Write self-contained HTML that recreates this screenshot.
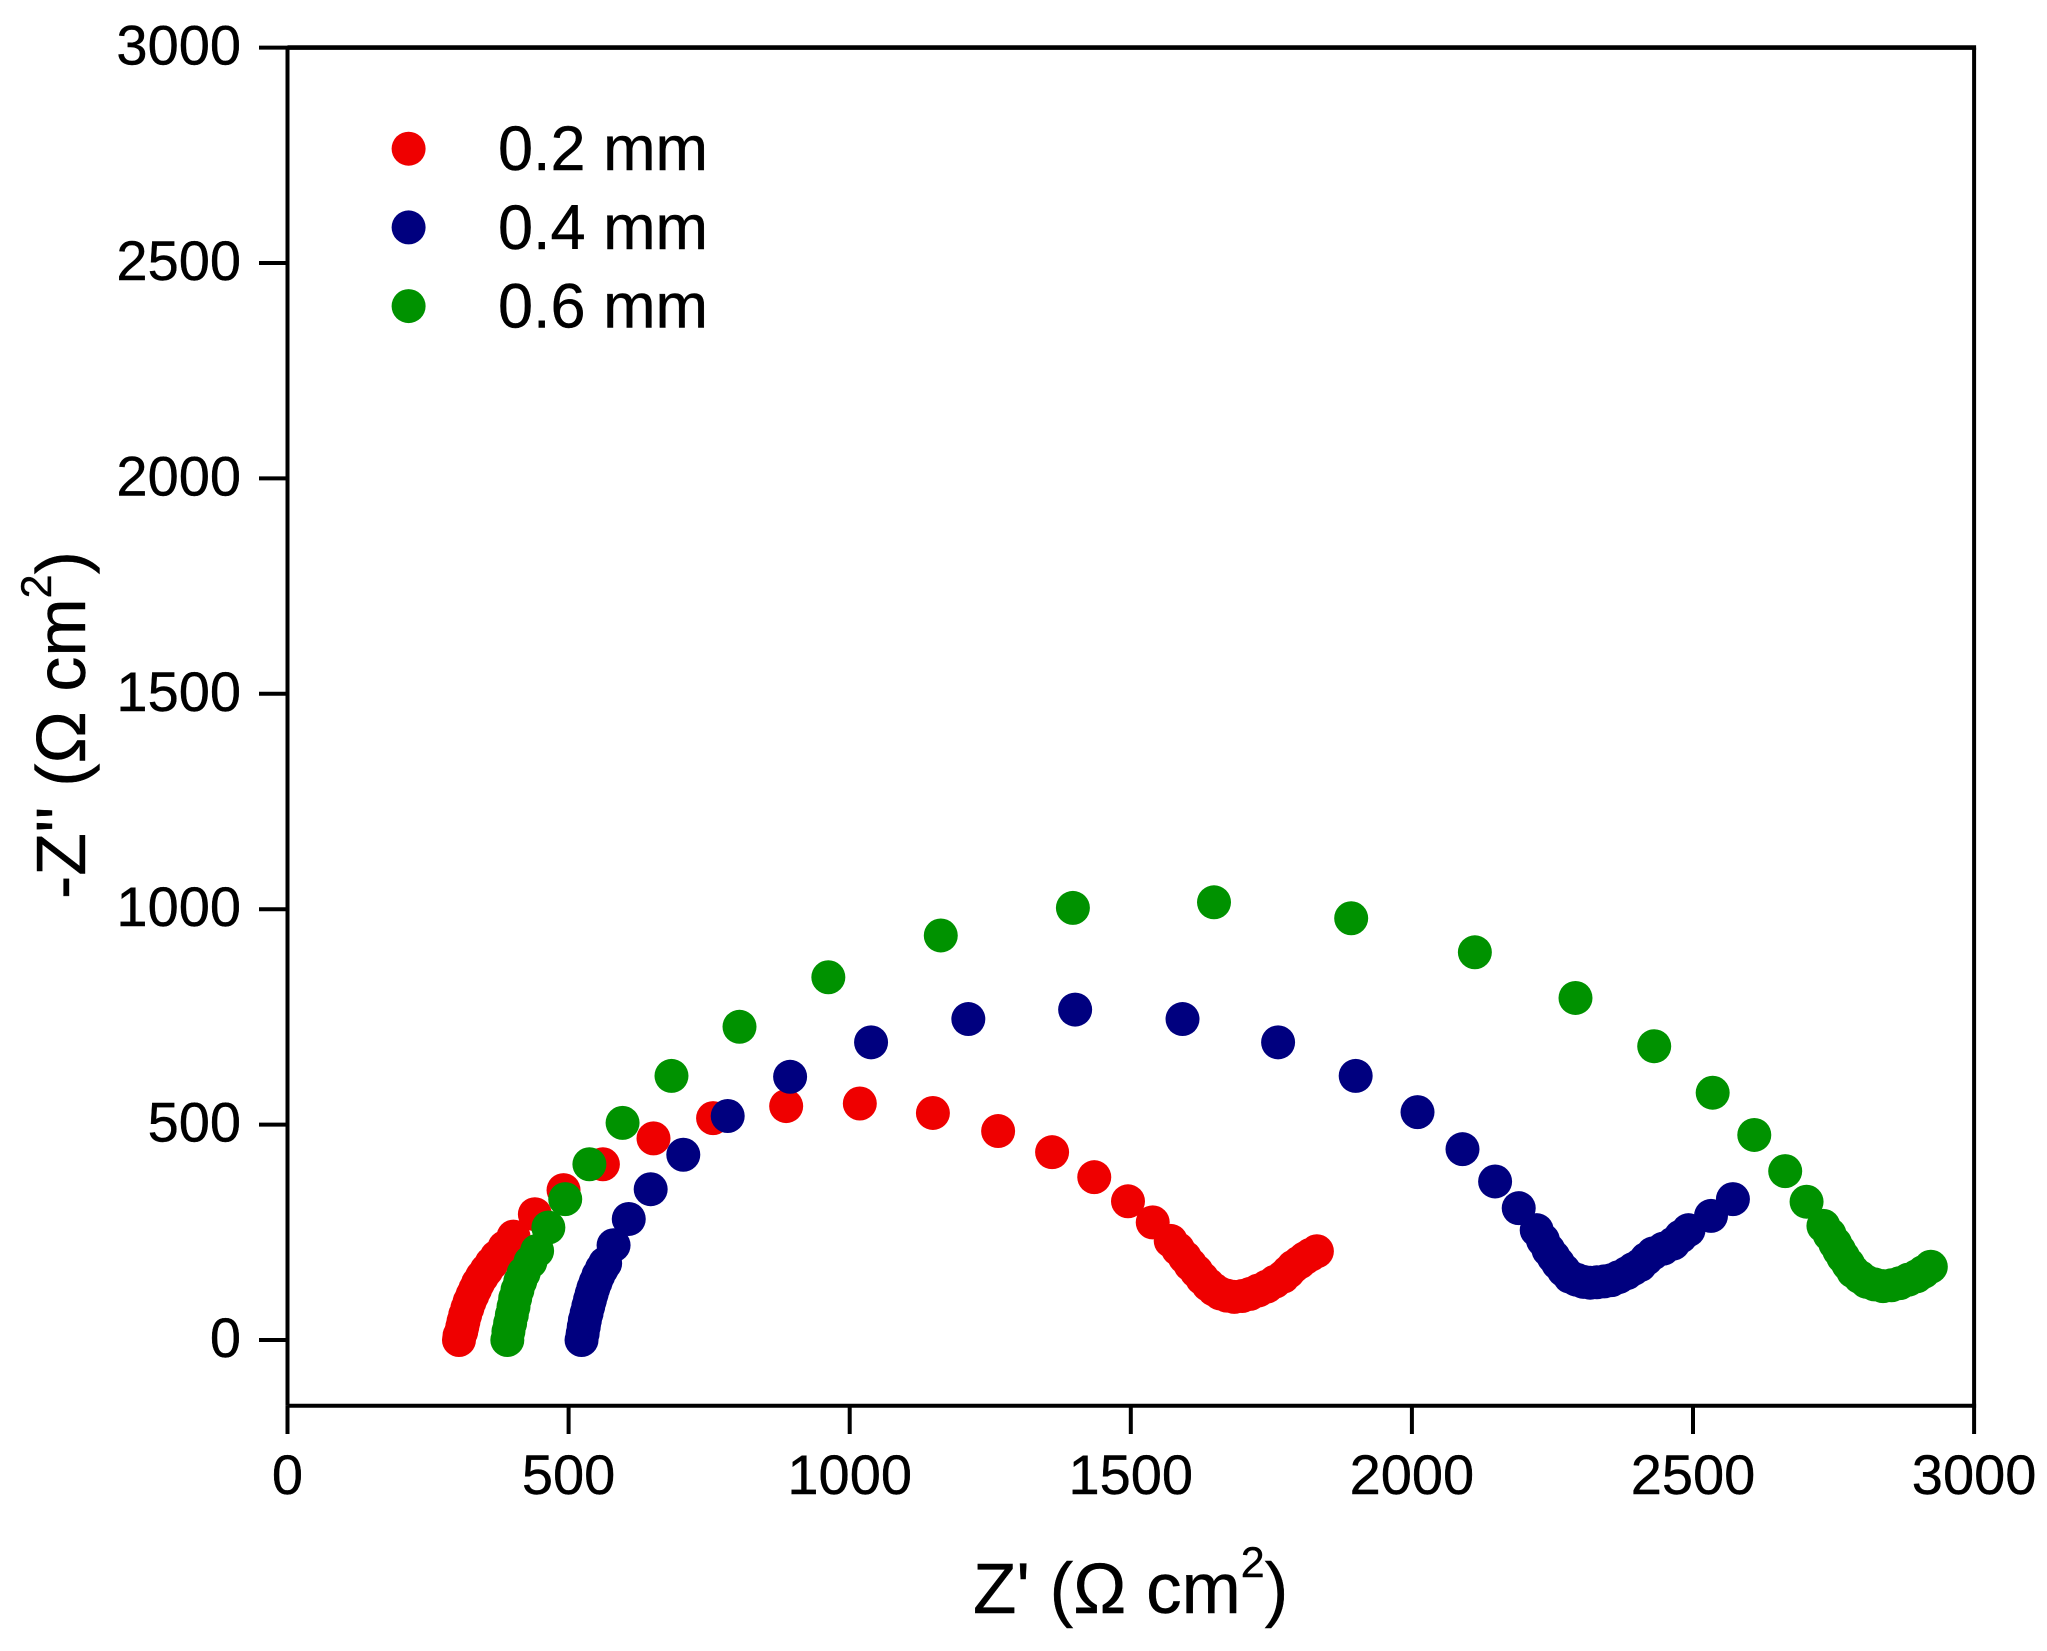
<!DOCTYPE html>
<html lang="en">
<head>
<meta charset="utf-8">
<title>Nyquist plot</title>
<style>
html,body{margin:0;padding:0;background:#fff;width:2047px;height:1651px;overflow:hidden}
svg{display:block}
text{font-family:"Liberation Sans",Arial,sans-serif;fill:#000;stroke:#000;stroke-width:0.4px}
</style>
</head>
<body>
<svg id="chart" xmlns="http://www.w3.org/2000/svg" width="2047" height="1651" viewBox="0 0 2047 1651">
  <rect x="0" y="0" width="2047" height="1651" fill="#ffffff"/>
  <g id="series"></g>
  <g id="axes"></g>
  <g id="legend"></g>
  <text x="973" y="1613" font-size="71">Z' (Ω cm<tspan dy="-36" font-size="43">2</tspan><tspan dy="36">)</tspan></text>
  <text transform="translate(85,899) rotate(-90)" x="0" y="0" font-size="70">-Z'' (Ω cm<tspan dy="-34" font-size="43">2</tspan><tspan dy="34">)</tspan></text>
</svg>
<script>
const xTickValues = [0, 500, 1000, 1500, 2000, 2500, 3000];
const yTickValues = [0, 500, 1000, 1500, 2000, 2500, 3000];
const seriesNames = ["0.2 mm", "0.4 mm", "0.6 mm"];

const redZReal = [305,306,309,311,313,316,320,324,329,334,339,346,354,363,372,386,402,440,491,561,651,757,887,1018,1148,1264,1360,1435,1495,1539,1571,1584,1596,1606,1617,1627,1638,1648,1659,1671,1684,1698,1712,1727,1742,1756,1771,1780,1789,1800,1810,1820,1831];
const redZImag = [0,10,19,31,43,58,74,89,104,118,132,147,162,178,193,215,240,292,348,408,468,515,543,549,527,485,436,378,322,273,230,211,192,175,159,143,128,117,108,103,100,102,107,115,124,135,147,158,170,180,190,198,206];

const navyZReal = [523,525,527,529,532,535,538,541,544,548,553,559,565,580,607,646,704,783,894,1038,1211,1401,1592,1762,1900,2010,2090,2148,2190,2222,2233,2243,2252,2260,2270,2281,2293,2305,2317,2329,2342,2355,2368,2382,2394,2406,2417,2429,2447,2465,2478,2492,2532,2571];
const navyZImag = [0,15,31,46,62,78,93,107,120,134,150,165,178,220,281,350,430,520,611,691,745,767,745,691,613,529,443,368,306,255,232,209,193,178,162,147,140,135,133,134,136,139,146,155,165,174,188,201,212,224,240,255,288,327];

const greenZReal = [391,393,396,399,402,405,409,414,420,432,444,464,494,537,596,683,804,962,1162,1397,1648,1892,2112,2291,2431,2535,2609,2664,2702,2732,2743,2753,2760,2767,2776,2785,2797,2809,2823,2838,2853,2868,2883,2898,2910,2923];
const greenZImag = [0,20,39,58,77,97,116,136,155,181,207,261,327,408,504,613,727,842,939,1003,1016,979,900,794,682,574,476,392,321,265,245,224,208,193,176,159,146,135,129,125,127,132,140,148,158,170];

const SVG_NS = "http://www.w3.org/2000/svg";
const xScale = function (v) { return 287.5 + v * 0.5622; };
const yScale = function (v) { return 1340 - v * 0.4308; };

function make(tag, attrs, parent) {
  const el = document.createElementNS(SVG_NS, tag);
  Object.keys(attrs).forEach(function (k) { el.setAttribute(k, attrs[k]); });
  parent.appendChild(el);
  return el;
}

const axes = document.getElementById("axes");
const seriesGroup = document.getElementById("series");
const legend = document.getElementById("legend");

function drawSeries(name, xs, ys, color) {
  const group = make("g", { fill: color }, seriesGroup);
  
  
  xs.forEach(function (x, i) {
    const pt = make("circle", { cx: xScale(x), cy: yScale(ys[i]), r: 17 }, group);
    
    
  });
}
drawSeries("0-2-mm", redZReal, redZImag, "#ef0000");
drawSeries("0-4-mm", navyZReal, navyZImag, "#00007f");
drawSeries("0-6-mm", greenZReal, greenZImag, "#009200");

const frameLeft = xScale(0);
const frameRight = xScale(3000);
const frameTop = yScale(3000);
const frameBottom = 1405.7;

const topAxis = make("line", { x1: frameLeft, x2: frameRight + 2, y1: frameTop, y2: frameTop, stroke: "#000", "stroke-width": 4.6 }, axes);


const rightAxis = make("line", { x1: frameRight, x2: frameRight, y1: frameTop, y2: frameBottom, stroke: "#000", "stroke-width": 4 }, axes);


const bottomAxis = make("line", { x1: frameLeft, x2: frameRight + 2, y1: frameBottom, y2: frameBottom, stroke: "#000", "stroke-width": 4 }, axes);


const leftAxis = make("line", { x1: frameLeft, x2: frameLeft, y1: frameTop, y2: frameBottom, stroke: "#000", "stroke-width": 4 }, axes);



xTickValues.forEach(function (v) {
  const px = xScale(v);
  const tick = make("line", { x1: px, x2: px, y1: frameBottom, y2: 1434, stroke: "#000", "stroke-width": 4 }, axes);
  
  
  const label = make("text", { x: px, y: 1494, "font-size": 56, "text-anchor": "middle" }, axes);
  
  
  label.textContent = String(v);
});

yTickValues.forEach(function (v) {
  const py = yScale(v);
  const tick = make("line", { x1: 259, x2: frameLeft, y1: py, y2: py, stroke: "#000", "stroke-width": 4 }, axes);
  
  
  const label = make("text", { x: 241, y: py + 17, "font-size": 56, "text-anchor": "end" }, axes);
  
  
  label.textContent = String(v);
});

const legendColors = ["#ef0000", "#00007f", "#009200"];
seriesNames.forEach(function (name, i) {
  const rowY = 148.7 + i * 78.7;
  const marker = make("circle", { cx: 408.6, cy: rowY, r: 17, fill: legendColors[i] }, legend);
  
  
  const label = make("text", { x: 498, y: rowY + 21.5, "font-size": 63 }, legend);
  
  
  label.textContent = name;
});
</script>
</body>
</html>
